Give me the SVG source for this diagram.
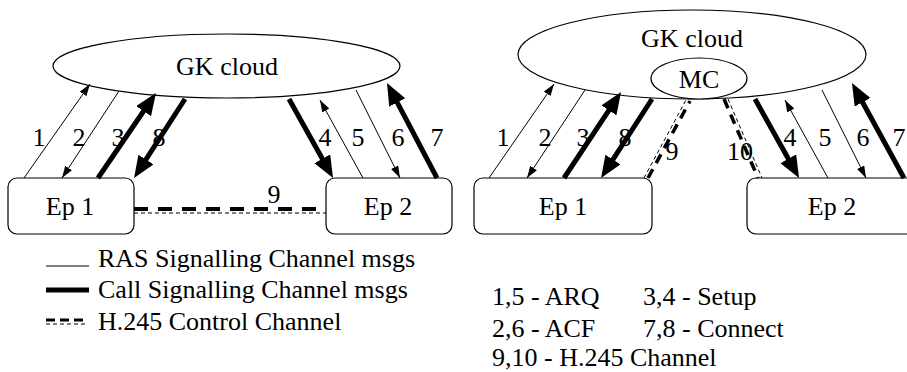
<svg xmlns="http://www.w3.org/2000/svg" width="907" height="372" viewBox="0 0 907 372">
<style>
text{font-family:'Liberation Serif','Times New Roman',serif;font-size:26px;fill:#000}
.c{text-anchor:middle}
.shape{fill:#fff;stroke:#000;stroke-width:1.2}
.ras{stroke:#000;stroke-width:1;fill:none}
.call{stroke:#000;stroke-width:5;fill:none}
.h1{stroke:#000;stroke-width:4;stroke-dasharray:14 10;fill:none}
.h2{stroke:#000;stroke-width:1;stroke-dasharray:4 3;fill:none}
.d1{stroke:#000;stroke-width:3.5;stroke-dasharray:10 7;fill:none}
</style>
<defs>
<marker id="a" markerUnits="userSpaceOnUse" markerWidth="13" markerHeight="9" refX="12" refY="4" orient="auto">
<path d="M0,0 L12,4 L0,8 z" fill="#000"/>
</marker>
<marker id="A" markerUnits="userSpaceOnUse" markerWidth="23" markerHeight="19" refX="2" refY="9" orient="auto">
<path d="M0,0 L22,9 L0,18 z" fill="#000"/>
</marker>
</defs>

<g id="gk1"><ellipse class="shape" cx="226.5" cy="66" rx="173.5" ry="32"/><text class="c" x="227" y="75">GK cloud</text></g>
<g id="ep1a"><rect class="shape" x="8" y="178" width="126" height="56" rx="9"/><text class="c" x="70" y="215">Ep 1</text></g>
<g id="ep2a"><rect class="shape" x="326" y="178" width="126" height="56" rx="9"/><text class="c" x="388" y="215">Ep 2</text></g>

<g id="gk2"><ellipse class="shape" cx="692" cy="54.5" rx="174" ry="44.5"/><text class="c" x="692" y="47">GK cloud</text></g>
<g id="mc"><ellipse class="shape" cx="699" cy="78.5" rx="48" ry="20.5"/><text class="c" x="699" y="88">MC</text></g>
<g id="ep1b"><rect class="shape" x="474" y="178" width="178" height="56" rx="9"/><text class="c" x="563" y="215">Ep 1</text></g>
<g id="ep2b"><rect class="shape" x="747" y="178" width="174" height="56" rx="9"/><text class="c" x="832" y="215">Ep 2</text></g>

<g id="connectors">
<line class="ras" x1="24" y1="178" x2="90" y2="84" marker-end="url(#a)"/>
<line class="ras" x1="119" y1="91" x2="62" y2="178" marker-end="url(#a)"/>
<line class="call" x1="98" y1="178" x2="144.7" y2="109.5" marker-end="url(#A)"/>
<line class="call" x1="185" y1="99" x2="144.9" y2="161.2" marker-end="url(#A)"/>
<line class="call" x1="289" y1="99" x2="323.3" y2="160.5" marker-end="url(#A)"/>
<line class="ras" x1="363" y1="178" x2="320" y2="100" marker-end="url(#a)"/>
<line class="ras" x1="356" y1="90" x2="400" y2="178" marker-end="url(#a)"/>
<line class="call" x1="437" y1="178" x2="396.3" y2="100.7" marker-end="url(#A)"/>
<line class="h1" x1="134" y1="209" x2="326" y2="209"/>
<line class="h2" x1="134" y1="213" x2="326" y2="213"/>

<line class="ras" x1="489" y1="178" x2="554" y2="84" marker-end="url(#a)"/>
<line class="ras" x1="585" y1="90" x2="527" y2="178" marker-end="url(#a)"/>
<line class="call" x1="564" y1="178" x2="610" y2="108.7" marker-end="url(#A)"/>
<line class="call" x1="652" y1="99" x2="611.9" y2="161.2" marker-end="url(#A)"/>
<line class="d1" x1="648" y1="178" x2="690" y2="101"/>
<line class="h2" x1="644" y1="178" x2="686" y2="100"/>
<line class="d1" x1="724" y1="99" x2="758" y2="178"/>
<line class="h2" x1="728" y1="99" x2="762" y2="178"/>
<line class="call" x1="755" y1="99" x2="789.3" y2="160.5" marker-end="url(#A)"/>
<line class="ras" x1="828" y1="178" x2="785" y2="100" marker-end="url(#a)"/>
<line class="ras" x1="822" y1="90" x2="866" y2="178" marker-end="url(#a)"/>
<line class="call" x1="904" y1="178" x2="861.6" y2="100.5" marker-end="url(#A)"/>
</g>

<g id="labels">
<text class="c" x="39" y="146">1</text>
<text class="c" x="79" y="146">2</text>
<text class="c" x="118" y="146">3</text>
<text class="c" x="159" y="146">8</text>
<text class="c" x="325" y="146">4</text>
<text class="c" x="358" y="146">5</text>
<text class="c" x="398" y="146">6</text>
<text class="c" x="437" y="146">7</text>
<text class="c" x="274" y="203">9</text>

<text class="c" x="503" y="146">1</text>
<text class="c" x="545" y="146">2</text>
<text class="c" x="583" y="146">3</text>
<text class="c" x="625" y="146">8</text>
<text class="c" x="672" y="160">9</text>
<text class="c" x="740" y="160">10</text>
<text class="c" x="790" y="146">4</text>
<text class="c" x="825" y="146">5</text>
<text class="c" x="863" y="146">6</text>
<text class="c" x="899" y="146">7</text>
</g>

<g id="legend">
<line class="ras" x1="46" y1="266" x2="89" y2="266"/>
<text x="98" y="267">RAS Signalling Channel msgs</text>
<line class="call" x1="46" y1="290" x2="89" y2="290"/>
<text x="98" y="298">Call Signalling Channel msgs</text>
<line stroke="#000" stroke-width="3" stroke-dasharray="9 5" x1="46" y1="320" x2="87" y2="320"/>
<line class="h2" x1="46" y1="324" x2="87" y2="324"/>
<text x="98" y="330">H.245 Control Channel</text>

<text x="492" y="305">1,5 - ARQ</text>
<text x="643" y="305">3,4 - Setup</text>
<text x="492" y="337">2,6 - ACF</text>
<text x="643" y="337">7,8 - Connect</text>
<text x="492" y="366">9,10 - H.245 Channel</text>
</g>
</svg>
